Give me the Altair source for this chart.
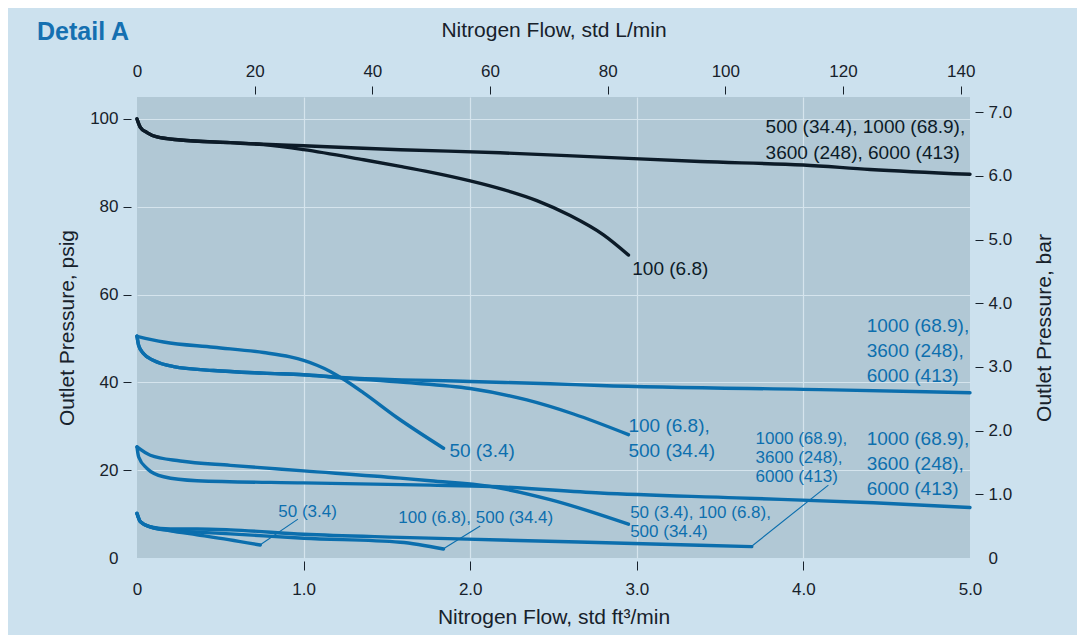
import altair as alt
import pandas as pd

FT3_TO_L = 28.3168
PSI_PER_BAR = 14.5038

# ---------------- curves (x = std ft3/min, y = psig) ----------------
curve_names = [
    "k_hi", "k_100",
    "b50_hi", "b50_100", "b50_50",
    "b25_hi", "b25_lo",
    "b10_hi", "b10_100", "b10_50",
]
curve_colors = ["#0c1b28", "#0c1b28",
                "#0b6ead", "#0b6ead", "#0b6ead",
                "#0b6ead", "#0b6ead",
                "#0b6ead", "#0b6ead", "#0b6ead"]

k_hi_x = [0, 0.02, 0.06, 0.12, 0.26, 0.56, 0.76, 1.0, 1.58, 2.18, 2.78, 3.38, 4.0, 4.4, 5.0]
k_hi_y = [100, 98.1, 96.9, 95.9, 95.2, 94.6, 94.25, 93.9, 93.0, 92.3, 91.3, 90.3, 89.5, 88.5, 87.4]

k_100_x = [0, 0.02, 0.06, 0.12, 0.26, 0.56, 0.76, 1.0, 1.36, 1.58, 1.76, 2.0, 2.2, 2.4, 2.6, 2.8, 2.95]
k_100_y = [100, 98.1, 96.9, 95.9, 95.2, 94.6, 94.15, 93.0, 90.7, 89.2, 87.9, 85.9, 83.9, 81.4, 78.0, 73.6, 69.0]

b50_hi_x = [0, 0.01, 0.04, 0.1, 0.22, 0.46, 0.76, 1.0, 1.2, 2.0, 2.48, 2.78, 4.18, 5.0]
b50_hi_y = [50.5, 48.4, 46.5, 45.0, 43.6, 42.7, 42.1, 41.75, 41.2, 40.2, 39.7, 39.3, 38.3, 37.65]

b50_100_x = [0, 0.01, 0.04, 0.1, 0.22, 0.46, 0.76, 1.0, 1.2, 1.6, 2.0, 2.34, 2.62, 2.95]
b50_100_y = [50.5, 48.4, 46.5, 45.0, 43.6, 42.7, 42.1, 41.75, 41.1, 40.0, 38.6, 36.0, 32.8, 28.1]

b50_50_x = [0, 0.16, 0.46, 0.76, 0.92, 1.0, 1.08, 1.16, 1.24, 1.36, 1.56, 1.84]
b50_50_y = [50.5, 49.2, 48.0, 46.8, 45.8, 45.0, 43.9, 42.5, 40.7, 37.6, 32.0, 25.0]

b25_hi_x = [0, 0.08, 0.26, 0.56, 1.0, 1.58, 1.76, 2.12, 2.48, 2.95]
b25_hi_y = [25.3, 23.4, 22.1, 21.1, 19.85, 18.2, 17.6, 16.3, 13.3, 7.7]

b25_lo_x = [0, 0.01, 0.06, 0.16, 0.36, 1.0, 1.76, 2.12, 2.78, 3.6, 4.42, 5.0]
b25_lo_y = [25.3, 23.0, 20.4, 18.5, 17.6, 17.1, 16.6, 16.3, 14.8, 13.7, 12.6, 11.5]

b10_hi_x = [0, 0.02, 0.08, 0.2, 0.36, 0.56, 1.0, 1.58, 2.18, 2.98, 3.69]
b10_hi_y = [10.15, 8.3, 7.1, 6.6, 6.6, 6.4, 5.4, 4.7, 4.1, 3.3, 2.6]

b10_100_x = [0, 0.02, 0.08, 0.2, 0.36, 0.56, 1.0, 1.58, 1.84]
b10_100_y = [10.15, 8.3, 7.1, 6.3, 5.9, 5.5, 4.5, 3.6, 2.05]

b10_50_x = [0, 0.02, 0.08, 0.2, 0.36, 0.55, 0.74]
b10_50_y = [10.15, 8.3, 7.1, 6.2, 5.3, 4.2, 2.95]

curve_x = [k_hi_x, k_100_x, b50_hi_x, b50_100_x, b50_50_x, b25_hi_x, b25_lo_x, b10_hi_x, b10_100_x, b10_50_x]
curve_y = [k_hi_y, k_100_y, b50_hi_y, b50_100_y, b50_50_y, b25_hi_y, b25_lo_y, b10_hi_y, b10_100_y, b10_50_y]

# ---------------- leader lines ----------------
leader_names = ["L1", "L2", "L3"]
leader_x = [[0.738, 0.966], [1.837, 2.06], [3.686, 4.15]]
leader_y = [[2.95, 8.86], [2.05, 7.27], [2.57, 16.6]]

# ---------------- labels ----------------
black_text = ["500 (34.4), 1000 (68.9),\n3600 (248), 6000 (413)", "100 (6.8)"]
black_x = [3.773, 2.973]
black_y = [96.8, 64.5]

blue_big_text = ["1000 (68.9),\n3600 (248),\n6000 (413)",
                 "1000 (68.9),\n3600 (248),\n6000 (413)",
                 "100 (6.8),\n500 (34.4)",
                 "50 (3.4)"]
blue_big_x = [4.38, 4.38, 2.95, 1.875]
blue_big_y = [51.4, 25.7, 28.6, 22.9]

blue_small_text = ["1000 (68.9),\n3600 (248),\n6000 (413)",
                   "50 (3.4), 100 (6.8),\n500 (34.4)",
                   "50 (3.4)",
                   "100 (6.8), 500 (34.4)"]
blue_small_x = [3.713, 2.96, 0.848, 1.568]
blue_small_y = [25.9, 9.0, 9.4, 7.9]

# axis ticks
bottom_ticks = [0, 1, 2, 3, 4, 5]
left_ticks = [0, 20, 40, 60, 80, 100]
top_ticks = [0, 20, 40, 60, 80, 100, 120, 140]
right_ticks = [0, 1, 2, 3, 4, 5, 6, 7]

# ---------------- build tables ----------------
rows = []
for name, col, xs, ys in zip(curve_names, curve_colors, curve_x, curve_y):
    for i, (a, b) in enumerate(zip(xs, ys)):
        rows.append({"curve": name, "color": col, "x": a, "psig": b, "i": i})
curves_df = pd.DataFrame(rows)

lrows = []
for name, xs, ys in zip(leader_names, leader_x, leader_y):
    for i, (a, b) in enumerate(zip(xs, ys)):
        lrows.append({"curve": name, "x": a, "psig": b, "i": i})
leader_df = pd.DataFrame(lrows)

black_df = pd.DataFrame({"x": black_x, "psig": black_y, "t": black_text})
big_df = pd.DataFrame({"x": blue_big_x, "psig": blue_big_y, "t": blue_big_text})
small_df = pd.DataFrame({"x": blue_small_x, "psig": blue_small_y, "t": blue_small_text})
axis_df = pd.DataFrame({"lmin": [0, 140], "bar": [0, 7]})

FONT = "Liberation Sans"
TXT = "#17212b"
GRID = "#d5e4ed"
BLUE = "#0b6ead"


def xscale():
    return alt.Scale(domain=[0, 5], nice=False, zero=False)


def yscale():
    return alt.Scale(domain=[0, 105], nice=False, zero=False)


no_edge_tick = {"condition": {"test": "datum.value == 0 || datum.value == 5", "value": "transparent"}, "value": TXT}
no_edge_grid = {"condition": {"test": "datum.value == 0 || datum.value == 5", "value": "transparent"}, "value": GRID}
no_zero_tick = {"condition": {"test": "datum.value == 0", "value": "transparent"}, "value": TXT}
no_zero_grid = {"condition": {"test": "datum.value == 0", "value": "transparent"}, "value": GRID}

x_axis = alt.Axis(
    orient="bottom", values=bottom_ticks, title="Nitrogen Flow, std ft³/min",
    labelExpr="datum.value == 0 ? '0' : format(datum.value, '.1f')",
    grid=True, gridColor=no_edge_grid, gridWidth=1.2, labelFlush=False,
    tickColor=no_edge_tick, tickSize=9, offset=3, labelPadding=11, titlePadding=9,
    domain=False,
)
y_axis = alt.Axis(
    orient="left", values=left_ticks, title="Outlet Pressure, psig",
    grid=True, gridColor=no_zero_grid, gridWidth=1.2, labelFlush=False,
    tickColor=no_zero_tick, tickSize=8, offset=6, labelPadding=5, titlePadding=12,
    domain=False,
)

lines = alt.Chart(curves_df).mark_line(
    interpolate="monotone", strokeWidth=3.4, strokeCap="round", strokeJoin="round"
).encode(
    x=alt.X("x:Q", scale=xscale(), axis=x_axis),
    y=alt.Y("psig:Q", scale=yscale(), axis=y_axis),
    color=alt.Color("color:N", scale=None),
    detail="curve:N",
    order="i:Q",
)

leaders = alt.Chart(leader_df).mark_line(strokeWidth=1.1, color=BLUE).encode(
    x=alt.X("x:Q", scale=xscale(), axis=None),
    y=alt.Y("psig:Q", scale=yscale(), axis=None),
    detail="curve:N",
    order="i:Q",
)


def text_layer(df, size, lh, color):
    return alt.Chart(df).mark_text(
        align="left", baseline="alphabetic", fontSize=size, lineHeight=lh,
        lineBreak="\n", font=FONT, color=color,
    ).encode(
        x=alt.X("x:Q", scale=xscale(), axis=None),
        y=alt.Y("psig:Q", scale=yscale(), axis=None),
        text="t:N",
    )


black_labels = text_layer(black_df, 19, 25.5, "#0c1b28")
big_labels = text_layer(big_df, 19, 25, "#0d6fae")
small_labels = text_layer(small_df, 17, 19, "#0d6fae")

sec = alt.Chart(axis_df).mark_point(opacity=0).encode(
    x=alt.X("lmin:Q", scale=alt.Scale(domain=[0, 5 * FT3_TO_L], nice=False, zero=False),
            axis=alt.Axis(orient="top", values=top_ticks, title="Nitrogen Flow, std L/min",
                          grid=False, tickColor=no_zero_tick, tickSize=8, offset=3,
                          labelFlush=False, labelPadding=6, titlePadding=22, domain=False)),
    y=alt.Y("bar:Q", scale=alt.Scale(domain=[0, 105 / PSI_PER_BAR], nice=False, zero=False),
            axis=alt.Axis(orient="right", values=right_ticks, title="Outlet Pressure, bar",
                          labelExpr="datum.value == 0 ? '0' : format(datum.value, '.1f')",
                          grid=False, tickColor=no_zero_tick, tickSize=8, offset=5,
                          labelFlush=False, labelPadding=5, titlePadding=43, titleAngle=270,
                          domain=False)),
)

chart = alt.layer(lines, leaders, black_labels, big_labels, small_labels, sec).resolve_scale(
    x="independent", y="independent"
).properties(
    width=833, height=461,
    autosize=alt.AutoSizeParams(type="none"),
    padding={"left": 129, "top": 89, "right": 107, "bottom": 77},
    background="#cce1ee",
    title=alt.TitleParams("Detail A", anchor="start", frame="group", dx=-100, dy=30,
                          fontSize=25, fontWeight="bold", font=FONT, color="#1570b1"),
).configure_view(fill="#b1c8d5", stroke=None).configure_axis(
    labelFont=FONT, labelFontSize=17, labelColor=TXT,
    titleFont=FONT, titleFontSize=21, titleFontWeight="normal", titleColor=TXT,
    tickWidth=1,
)

chart.save("out.html", embed_options={"renderer": "svg", "actions": False})
